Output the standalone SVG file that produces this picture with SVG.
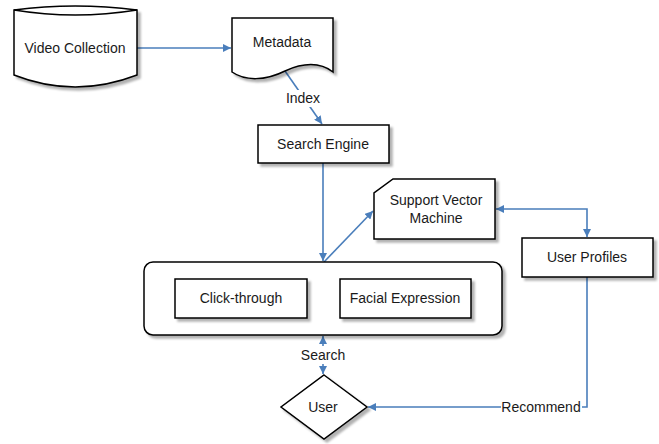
<svg xmlns="http://www.w3.org/2000/svg" width="659" height="444" viewBox="0 0 659 444">
<defs>
<filter id="sh" x="-10%" y="-10%" width="130%" height="130%">
<feDropShadow dx="3" dy="3" stdDeviation="1.2" flood-color="#000" flood-opacity="0.3"/>
</filter>
<marker id="ah" viewBox="0 0 10 10" refX="10" refY="5" markerWidth="8" markerHeight="8" markerUnits="userSpaceOnUse" orient="auto-start-reverse">
<path d="M0,0 L10,5 L0,10 Z" fill="#4a7ebb"/>
</marker>
</defs>
<style>
.n{fill:#fff;stroke:#000;stroke-width:1.5;filter:url(#sh)}
.t{font-family:"Liberation Sans",Arial,sans-serif;font-size:14px;fill:#1a1a1a;text-anchor:middle;dominant-baseline:central}
.c{fill:none;stroke:#4a7ebb;stroke-width:1.6}
.lb{fill:#fff}
</style>
<rect width="659" height="444" fill="#fff"/>
<g id="connectors">
<path class="c" d="M137,48 L231,48" marker-end="url(#ah)"/>
<path class="c" d="M285,71 L322,124" marker-end="url(#ah)"/>
<path class="c" d="M323,163 L323,261" marker-end="url(#ah)"/>
<path class="c" d="M324,262 L373,211" marker-end="url(#ah)"/>
<path class="c" d="M496,209 L587,209 L587,237" marker-start="url(#ah)" marker-end="url(#ah)"/>
<path class="c" d="M587,277 L587,407 L368,407" marker-end="url(#ah)"/>
<path class="c" d="M323,346 L323,336" marker-end="url(#ah)"/>
<path class="c" d="M323,364 L323,374" marker-end="url(#ah)"/>
<rect class="lb" x="285" y="90" width="36" height="17"/>
<text class="t" x="303" y="98">Index</text>
<rect class="lb" x="300" y="347" width="46" height="16"/>
<text class="t" x="323" y="355">Search</text>
<rect class="lb" x="501" y="399" width="81" height="17"/>
<text class="t" x="541" y="407">Recommend</text>
</g>
<g id="video-collection">
<path class="n" d="M14,10 Q75,2 137,10 L137,75 Q75,99 14,75 Z"/>
<path d="M14,10 Q75,20 137,10" fill="none" stroke="#000" stroke-width="1.5"/>
<text class="t" x="75" y="48">Video Collection</text>
</g>
<g id="metadata">
<path class="n" d="M232,18 L333,18 L333,72 C320,62 305,62 285,71 C265,81 245,81 232,72 Z"/>
<text class="t" x="282" y="42">Metadata</text>
</g>
<g id="search-engine">
<rect class="n" x="258" y="125" width="131" height="38"/>
<text class="t" x="323" y="144">Search Engine</text>
</g>
<g id="svm">
<path class="n" d="M393,179 L495,179 L495,239 L374,239 L374,193 Z"/>
<text class="t" x="436" y="200">Support Vector</text>
<text class="t" x="436" y="218">Machine</text>
</g>
<g id="user-profiles">
<rect class="n" x="522" y="238" width="131" height="39"/>
<text class="t" x="587" y="257">User Profiles</text>
</g>
<g id="feedback-group">
<rect class="n" x="144" y="262" width="358" height="73" rx="9"/>
</g>
<g id="click-through">
<rect class="n" x="175" y="279" width="132" height="39"/>
<text class="t" x="241" y="298">Click-through</text>
</g>
<g id="facial-expression">
<rect class="n" x="340" y="279" width="131" height="39"/>
<text class="t" x="405" y="298">Facial Expression</text>
</g>
<g id="user">
<path class="n" d="M324,375 L367,407 L324,439 L281,407 Z"/>
<text class="t" x="323" y="407">User</text>
</g>
</svg>
